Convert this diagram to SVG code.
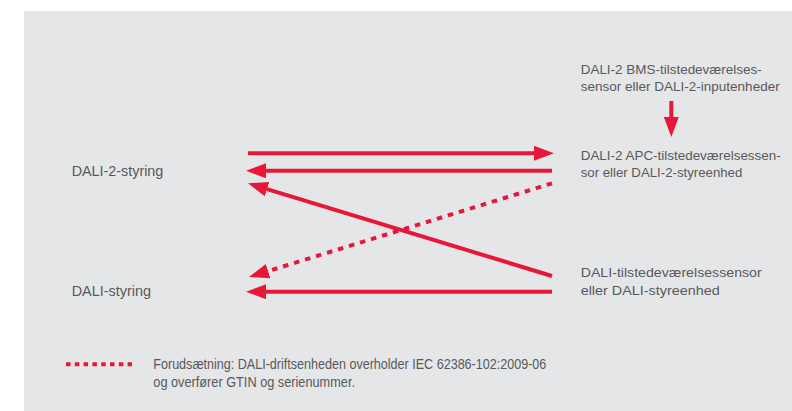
<svg xmlns="http://www.w3.org/2000/svg" width="792" height="411" viewBox="0 0 792 411">
  <style>
    .lbl { font-family: "Liberation Sans", Arial, sans-serif; font-size: 13.5px; fill: #58595b; }
    .big { font-size: 14.5px; }
    .conn { stroke: #e8173a; stroke-width: 4; fill: none; }
    .dot { stroke-dasharray: 5.5 6; }
  </style>
  <defs>
    <marker id="ah" markerUnits="userSpaceOnUse" markerWidth="20" markerHeight="15" refX="0" refY="7.5" orient="auto">
      <path d="M0,0 L20,7.5 L0,15 z" fill="#e8173a"/>
    </marker>
  </defs>
  <rect x="24" y="11" width="768" height="400" fill="#e5e6e8"/>

  <g id="dali2-styring">
    <text class="lbl big" x="71.7" y="176" textLength="91.6" lengthAdjust="spacingAndGlyphs">DALI-2-styring</text>
  </g>
  <g id="dali-styring">
    <text class="lbl big" x="71.7" y="295.7" textLength="79.3" lengthAdjust="spacingAndGlyphs">DALI-styring</text>
  </g>
  <g id="bms-sensor">
    <text class="lbl" x="580.7" y="73.5" textLength="181" lengthAdjust="spacingAndGlyphs">DALI-2 BMS-tilstedeværelses-</text>
    <text class="lbl" x="580.7" y="91" textLength="199" lengthAdjust="spacingAndGlyphs">sensor eller DALI-2-inputenheder</text>
  </g>
  <g id="apc-sensor">
    <text class="lbl" x="580.7" y="159.5" textLength="200" lengthAdjust="spacingAndGlyphs">DALI-2 APC-tilstedeværelsessen-</text>
    <text class="lbl" x="580.7" y="177.3" textLength="161.6" lengthAdjust="spacingAndGlyphs">sor eller DALI-2-styreenhed</text>
  </g>
  <g id="dali-sensor">
    <text class="lbl" x="580.7" y="276.7" textLength="181" lengthAdjust="spacingAndGlyphs">DALI-tilstedeværelsessensor</text>
    <text class="lbl" x="580.7" y="295" textLength="139" lengthAdjust="spacingAndGlyphs">eller DALI-styreenhed</text>
  </g>

  <g id="connectors">
    <line class="conn" x1="671.3" y1="101" x2="671.3" y2="117" marker-end="url(#ah)"/>
    <line class="conn" x1="248" y1="153.3" x2="534" y2="153.3" marker-end="url(#ah)"/>
    <line class="conn" x1="552" y1="170.7" x2="266" y2="170.7" marker-end="url(#ah)"/>
    <line class="conn" x1="552" y1="276" x2="267.1" y2="189.1" marker-end="url(#ah)"/>
    <line class="conn dot" x1="552" y1="183.3" x2="268.1" y2="271.1" marker-end="url(#ah)"/>
    <line class="conn" x1="552" y1="291.7" x2="266" y2="291.7" marker-end="url(#ah)"/>
  </g>

  <g id="legend">
    <line class="conn" x1="66" y1="364.3" x2="132" y2="364.3" stroke-dasharray="4.5 4.3"/>
    <text class="lbl big" x="153.3" y="369.3" textLength="393" lengthAdjust="spacingAndGlyphs">Forudsætning: DALI-driftsenheden overholder IEC 62386-102:2009-06</text>
    <text class="lbl big" x="153.3" y="386.7" textLength="201.7" lengthAdjust="spacingAndGlyphs">og overfører GTIN og serienummer.</text>
  </g>
</svg>
